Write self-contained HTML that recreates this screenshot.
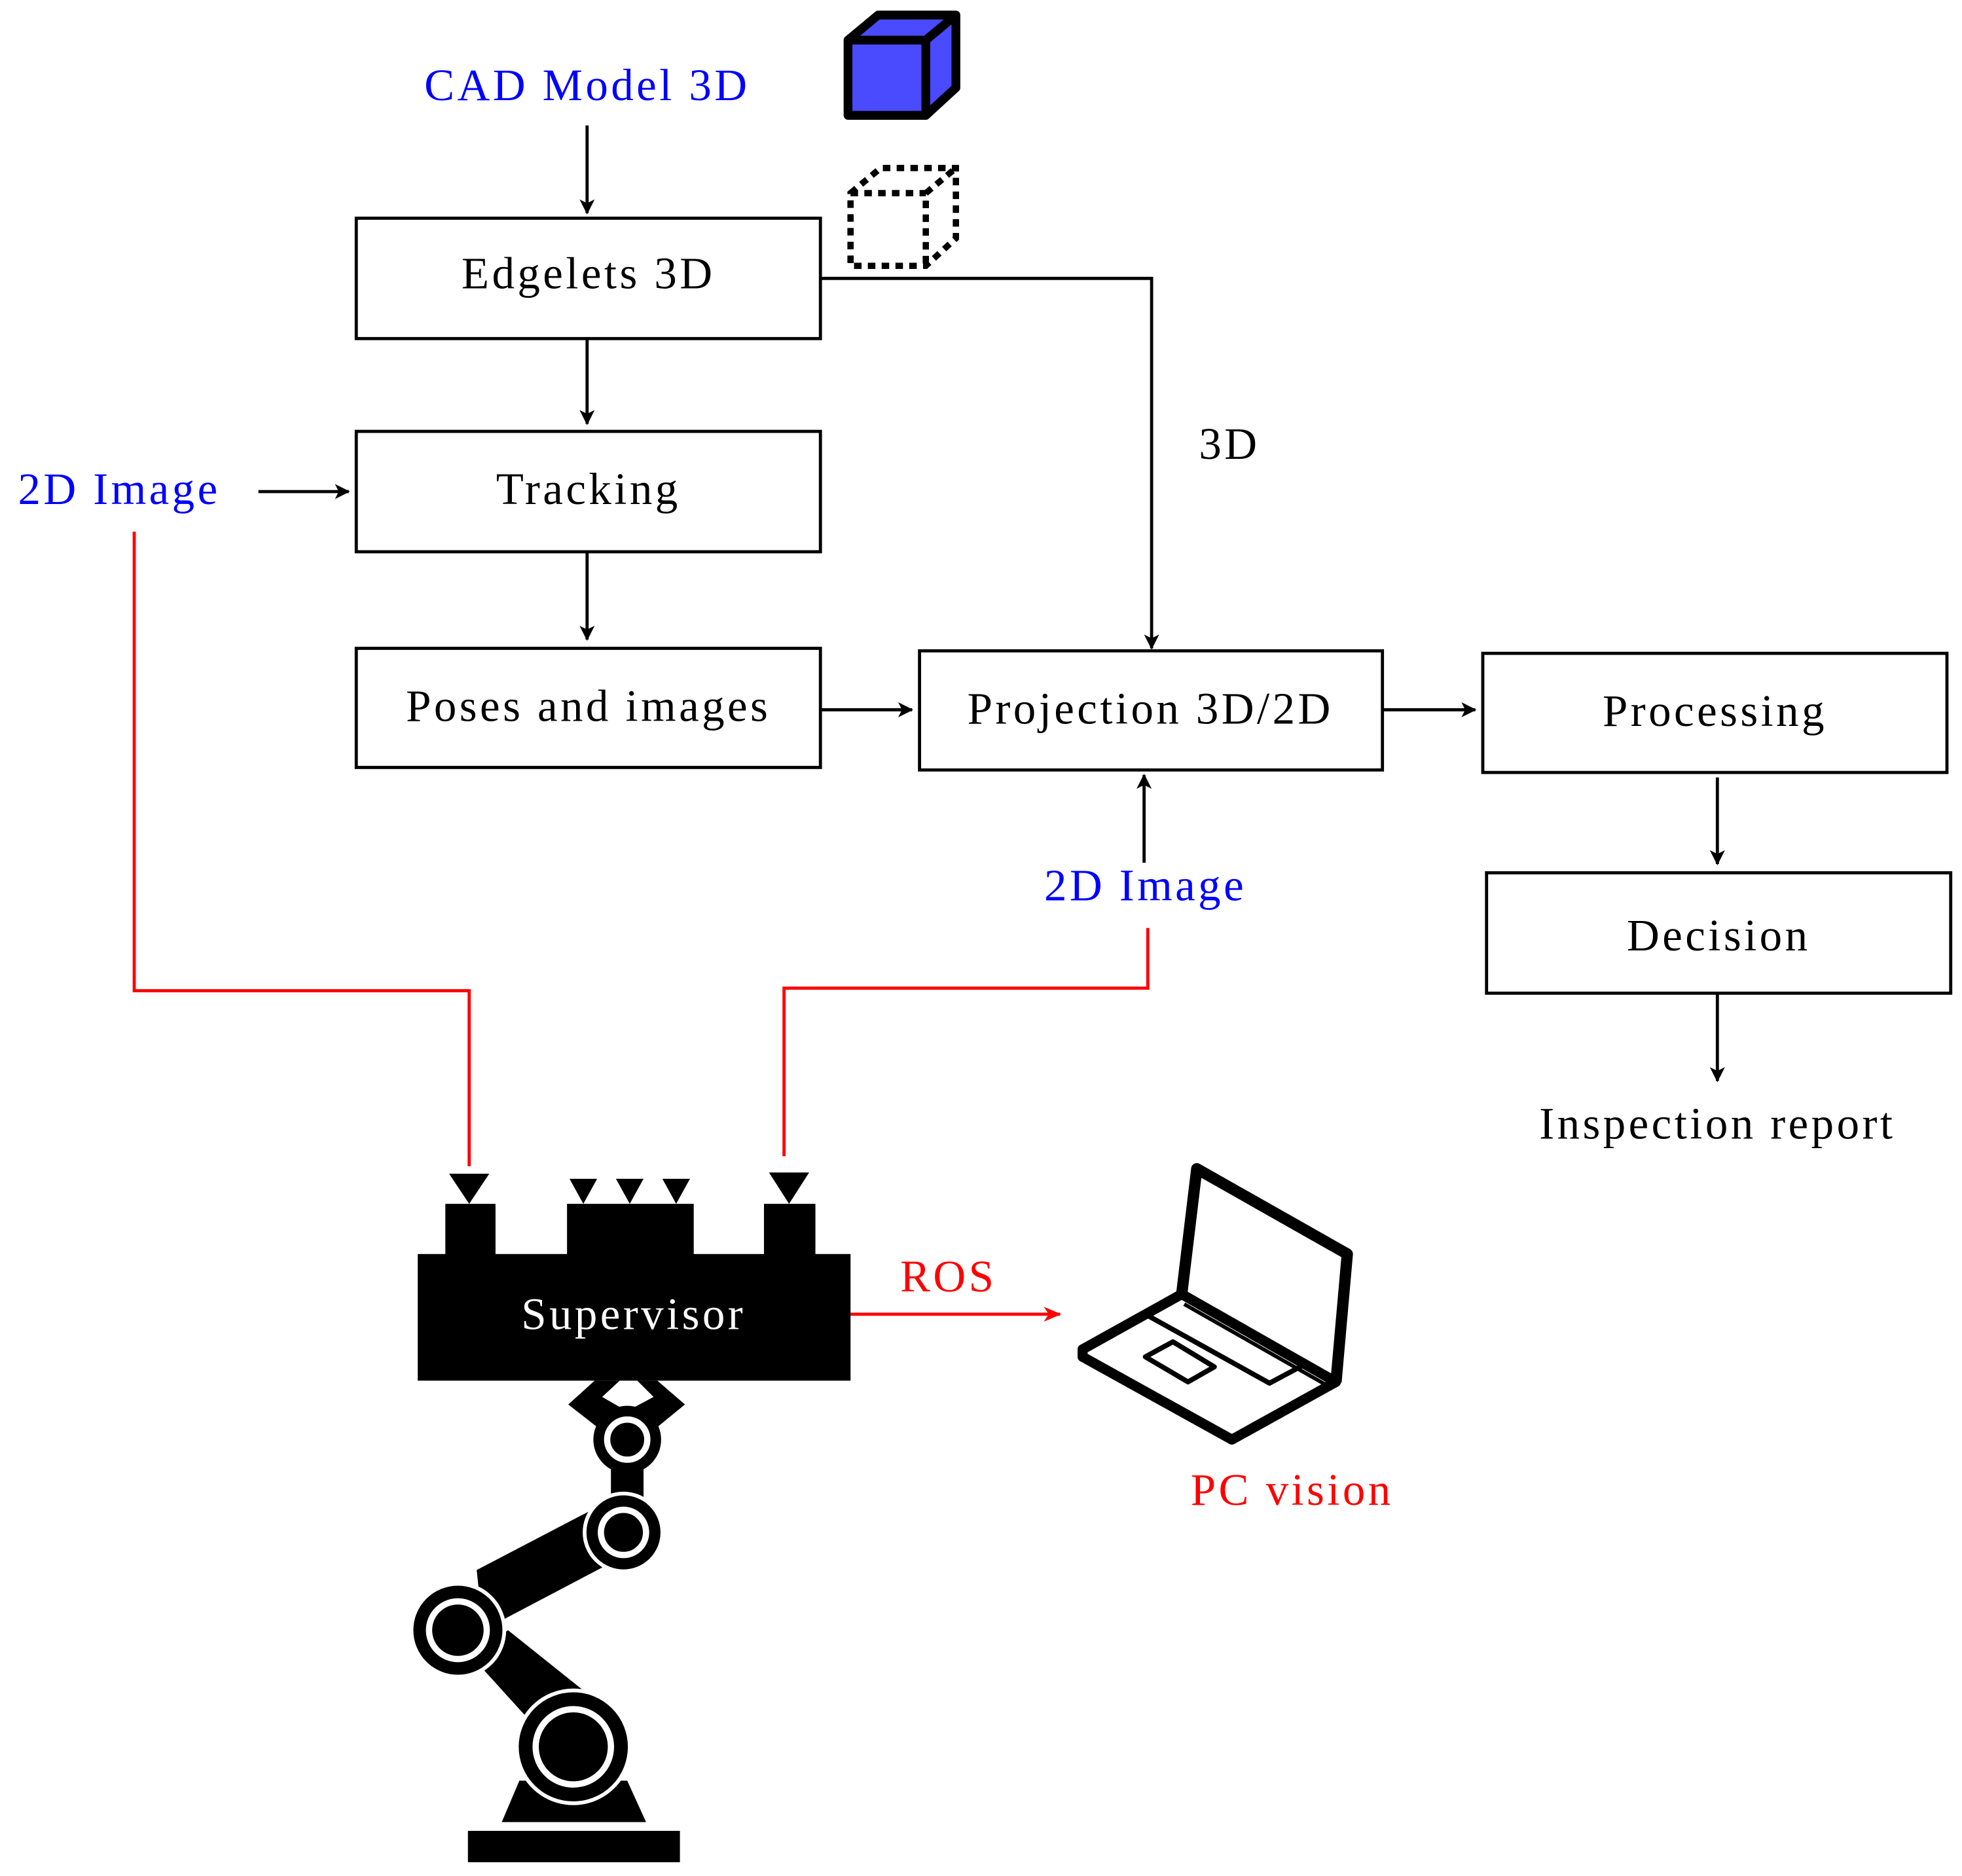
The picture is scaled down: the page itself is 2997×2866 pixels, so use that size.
<!DOCTYPE html>
<html><head><meta charset="utf-8"><style>html,body{margin:0;padding:0;background:#fff}svg{display:block}text{font-family:"Liberation Serif",serif;font-size:36px;letter-spacing:2.3px}</style></head>
<body>
<svg width="2997" height="2866" viewBox="0 0 1564 1496" preserveAspectRatio="none" xmlns="http://www.w3.org/2000/svg">
<defs><marker id="a" markerWidth="12" markerHeight="12" refX="11" refY="6" orient="auto" markerUnits="userSpaceOnUse"><path d="M0,0 L12,6 L0,12 L3,6 Z" fill="#000"/></marker>
<marker id="r" markerWidth="14" markerHeight="12" refX="13" refY="6" orient="auto" markerUnits="userSpaceOnUse"><path d="M0,0 L14,6 L0,12 L4,6 Z" fill="red"/></marker></defs>
<g fill="none" stroke="#000" stroke-width="2.5">
<rect x="284" y="174" width="370" height="96"/>
<rect x="284" y="344" width="370" height="96"/>
<rect x="284" y="517" width="370" height="95"/>
<rect x="733" y="519" width="369" height="95"/>
<rect x="1182" y="521" width="370" height="95"/>
<rect x="1185" y="696" width="370" height="96"/>
<g marker-end="url(#a)">
<path d="M468,100 V170"/><path d="M468,270 V338"/><path d="M468,440 V510"/>
<path d="M206,392 H278"/><path d="M654,566 H727"/><path d="M1102,566 H1176"/>
<path d="M654,222 H918 V517"/><path d="M1369,620 V689"/><path d="M1369,792 V862"/>
<path d="M912,688 V618"/></g></g>
<g fill="none" stroke="red" stroke-width="2.5">
<path d="M107,424 V790 H374 V930"/><path d="M915,740 V788 H625 V922"/>
<path d="M678,1048 H845" marker-end="url(#r)"/></g>
<g stroke="#000" stroke-width="7" stroke-linejoin="round">
<path d="M676,32 L700,12 L762,12 L762,70 L738,92 L676,92 Z" fill="#4a4aff"/>
<path d="M676,32 H738 V92 M738,32 L762,12" fill="none"/></g>
<g stroke="#000" stroke-width="5" stroke-dasharray="6,5" fill="none">
<path d="M678,154 L702,134 L762,134 L762,190 L738,212 L678,212 Z"/>
<path d="M678,154 H738 V212 M738,154 L762,134"/></g>
<g text-anchor="middle">
<text x="468" y="80" fill="#00f">CAD Model 3D</text>
<text x="469" y="230">Edgelets 3D</text>
<text x="469" y="402">Tracking</text>
<text x="469" y="575">Poses and images</text>
<text x="917" y="577">Projection 3D/2D</text>
<text x="1367" y="579">Processing</text>
<text x="1370" y="758">Decision</text>
<text x="1369" y="908">Inspection report</text>
<text x="95" y="402" fill="#00f">2D Image</text>
<text x="913" y="718" fill="#00f">2D Image</text>
<text x="980" y="366">3D</text>
<text x="756" y="1030" fill="red">ROS</text>
<text x="1030" y="1200" fill="red">PC vision</text>
</g>
<g fill="#000">
<rect x="333" y="1000" width="345" height="101"/>
<rect x="355" y="960" width="40" height="41"/>
<rect x="452" y="960" width="101" height="41"/>
<rect x="609" y="960" width="41" height="41"/>
<path d="M358,936 H390 L374,960 Z"/><path d="M613,935 H645 L629,960 Z"/>
<path d="M454,940 H476 L465,960 Z"/><path d="M491,940 H513 L502,960 Z"/><path d="M528,940 H550 L539,960 Z"/>
<path d="M474,1101 L453,1120 L476,1138 L490,1128 L508,1128 L524,1138 L546,1120 L524,1101 L508,1101 L521,1114 L506,1122 L494,1122 L480,1114 L494,1101 Z"/>
<circle cx="500" cy="1148" r="27"/><rect x="487" y="1160" width="26" height="40"/>
<path d="M470,1205 L380,1252 L385,1300 L480,1250 Z"/>
<path d="M375,1320 L405,1300 L470,1352 L425,1375 Z"/>
<circle cx="497" cy="1222" r="32"/>
<circle cx="365" cy="1300" r="38"/>
<circle cx="457" cy="1393" r="46"/>
<path d="M414,1420 H500 L515,1453 H400 Z"/>
<rect x="373" y="1460" width="169" height="25"/>
</g>
<g fill="none" stroke="#fff">
<circle cx="500" cy="1148" r="16" stroke-width="5"/>
<circle cx="497" cy="1222" r="31" stroke-width="3"/>
<circle cx="497" cy="1222" r="18" stroke-width="5"/>
<circle cx="365" cy="1300" r="37" stroke-width="3"/>
<circle cx="365" cy="1300" r="23" stroke-width="5"/>
<circle cx="457" cy="1393" r="45" stroke-width="3"/>
<circle cx="457" cy="1393" r="30" stroke-width="5"/>
</g>
<text x="505" y="1060" fill="#fff" text-anchor="middle">Supervisor</text>
<g fill="none" stroke="#000" stroke-linejoin="round">
<path d="M942,1032 L954,932 L1074,1000 L1065,1102" stroke-width="9"/>
<path d="M942,1032 L863,1076 L863,1082 L982,1148 L1065,1102 L942,1032" stroke-width="8"/>
<path d="M944,1040 L1060,1106" stroke-width="3"/>
<path d="M913,1048 L942,1032 L1040,1088 L1012,1103 Z" stroke-width="4"/>
<path d="M913,1082 L935,1070 L968,1090 L947,1102 Z" stroke-width="4"/>
</g>
</svg>
</body></html>
